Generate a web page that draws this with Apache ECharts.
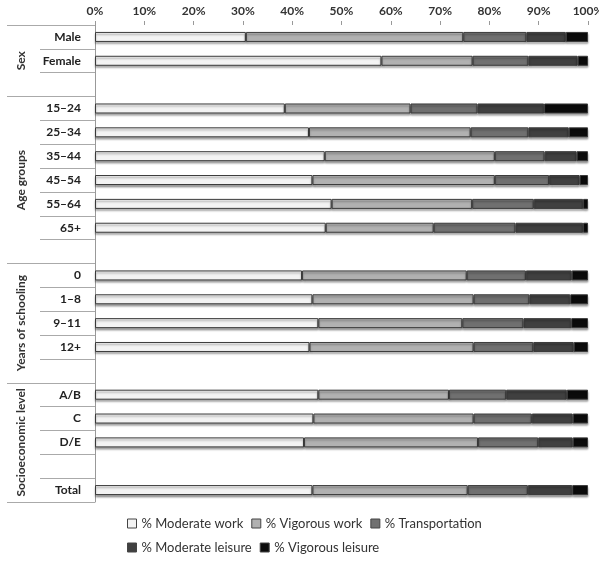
<!DOCTYPE html>
<html>
<head>
<meta charset="utf-8">
<script src="https://cdn.jsdelivr.net/npm/echarts@6/dist/echarts.min.js"></script>
<style>
  html, body { margin: 0; padding: 0; background: #fff; }
  #chart { width: 599px; height: 565px; }
</style>
</head>
<body>
<div id="chart"></div>
<script>
// rows, top to bottom ('' = spacer row)
var rows = ['Male', 'Female', '', '15\u201324', '25\u201334', '35\u201344', '45\u201354', '55\u201364', '65+', '',
            '0', '1\u20138', '9\u201311', '12+', '', 'A/B', 'C', 'D/E', '', 'Total'];
// group titles, put on the middle row of each group
var groups = ['', 'Sex', '', '', '', '', 'Age groups', '', '', '',
              '', '', 'Years of schooling', '', '', '', '', 'Socioeconomic level', '', ''];
var groupStarts = [0, 3, 10, 15];

var ticks = [0, 10, 20, 30, 40, 50, 60, 70, 80, 90, 100];

var names = ['% Moderate work', '% Vigorous work', '% Transportation', '% Moderate leisure', '% Vigorous leisure'];
var colors = ['#f3f3f3', '#b1b1b1', '#707070', '#404040', '#0b0b0b'];

var moderateWork   = [30.6, 58.1, null, 38.5, 43.4, 46.6, 44.1, 48.0, 46.8, null, 42.0, 44.1, 45.3, 43.5, null, 45.3, 44.3, 42.4, null, 44.1];
var vigorousWork   = [44.1, 18.5, null, 25.5, 32.8, 34.5, 37.0, 28.5, 21.9, null, 33.4, 32.7, 29.2, 33.3, null, 26.5, 32.5, 35.3, null, 31.5];
var transportation = [12.8, 11.3, null, 13.6, 11.7, 10.1, 11.0, 12.5, 16.6, null, 12.0, 11.3, 12.4, 12.1, null, 11.6, 11.8, 12.2, null, 12.2];
var moderateLeis   = [8.0, 10.0, null, 13.5, 8.2, 6.5, 6.2, 10.0, 13.7, null, 9.3, 8.3, 9.7, 8.2, null, 12.3, 8.3, 7.0, null, 9.0];
var vigorousLeis   = [4.5, 2.1, null, 8.9, 3.9, 2.3, 1.7, 1.0, 1.0, null, 3.3, 3.6, 3.4, 2.9, null, 4.3, 3.1, 3.1, null, 3.2];

var values = [moderateWork, vigorousWork, transportation, moderateLeis, vigorousLeis];

var chart = echarts.init(document.getElementById('chart'));
var font = 'Lato, "Liberation Sans", sans-serif';

var series = [];
for (var i = 0; i < names.length; i++) {
    series.push({
        name: names[i],
        type: 'bar',
        stack: 'all',
        barWidth: 10,
        yAxisIndex: 0,
        data: values[i],
        itemStyle: {
            color: colors[i],
            borderColor: '#3a3a3a',
            borderWidth: 1,
            shadowColor: 'rgba(0,0,0,0.35)',
            shadowBlur: 2,
            shadowOffsetY: 2
        },
        emphasis: { disabled: true }
    });
}

var legendBase = {
    left: 122,
    icon: 'rect',
    itemWidth: 9,
    itemHeight: 9,
    itemGap: 8,
    selectedMode: false,
    itemStyle: { borderColor: '#444', borderWidth: 1, shadowBlur: 0, shadowOffsetY: 0, shadowColor: 'transparent' },
    textStyle: { fontFamily: font, fontSize: 13, color: '#333', width: 105, overflow: 'none' }
};

var option = {
    animation: false,
    backgroundColor: '#fff',
    grid: { left: 95, right: 11, top: 25, bottom: 63, containLabel: false, outerBoundsMode: 'none' },
    legend: [
        Object.assign({}, legendBase, { top: 512, data: names.slice(0, 3) }),
        Object.assign({}, legendBase, { top: 536, data: names.slice(3) })
    ],
    xAxis: {
        type: 'value',
        position: 'top',
        min: ticks[0],
        max: ticks[ticks.length - 1],
        interval: 10,
        axisLine: { show: false },
        axisTick: { show: true, length: 4, lineStyle: { color: '#999' } },
        splitLine: { show: false },
        axisLabel: { formatter: '{value}%', fontFamily: font, fontWeight: 'bold', fontSize: 12, color: '#333', margin: 8 }
    },
    yAxis: [
        {
            type: 'category',
            position: 'left',
            data: rows,
            inverse: true,
            axisLine: { show: true, lineStyle: { color: '#999' } },
            axisTick: { show: true, length: 55, interval: 0, lineStyle: { color: '#aaa' } },
            axisLabel: { interval: 0, margin: 14, fontFamily: font, fontWeight: 'bold', fontSize: 12, color: '#222' }
        },
        {
            type: 'category',
            position: 'left',
            offset: 0,
            data: groups,
            inverse: true,
            axisLine: { show: false },
            axisTick: {
                show: true, length: 88, lineStyle: { color: '#aaa' },
                interval: function (idx) { return groupStarts.indexOf(idx) >= 0; }
            },
            axisLabel: { interval: 0, rotate: 90, margin: 68, fontFamily: font, fontWeight: 'bold', fontSize: 12, color: '#333' }
        }
    ],
    series: series
};

chart.setOption(option);
</script>
</body>
</html>
